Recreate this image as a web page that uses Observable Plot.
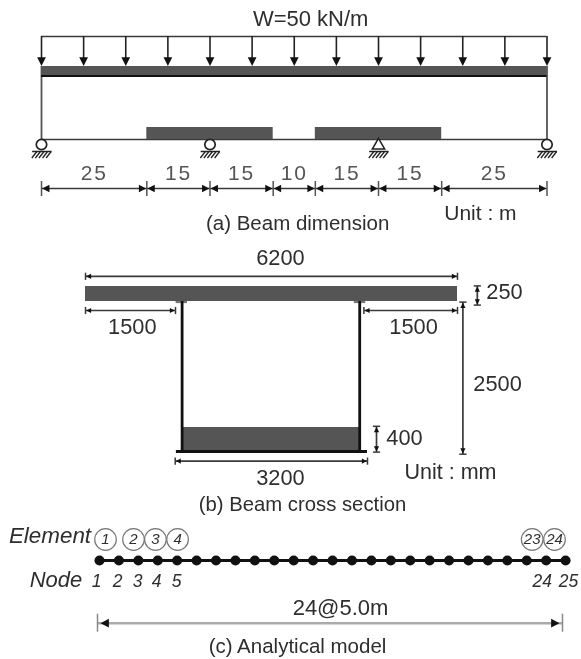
<!DOCTYPE html>
<html><head><meta charset="utf-8">
<script src="https://cdn.jsdelivr.net/npm/d3@7"></script>
<script src="https://cdn.jsdelivr.net/npm/@observablehq/plot@0.6"></script>
<style>
html,body{margin:0;padding:0;background:#fff;overflow:hidden}
#chart svg{display:block;filter:blur(.5px);background:#fff;max-width:none}
.wide text{letter-spacing:1.8px}
</style></head><body><div id="chart"></div>
<script>
// ---------- (a) beam dimension, metres ----------
const spanLengths = [25, 15, 15, 10, 15, 15, 25];
const loadStations = [0,10,20,30,40,50,60,70,80,90,100,110,120];
const thickenedZones = [[25, 55], [65, 95]];
const rollerSupports = [0, 40, 120];
const hingeSupports = [80];
const hatchOffsets = [-1.5, -0.65, 0.2, 1.05, 1.9];
// ---------- (b) cross section, millimetres ----------
const deckWidth = 6200, deckDepth = 250, sectionDepth = 2500, plateDepth = 400;
const webStations = [1610, 4570];
const topFlanges = [[1510, 1700], [4480, 4670]];
const bottomFlange = [1515, 4700];
// ---------- (c) analytical model, node numbers ----------
const nodes = d3.range(1, 26);
const elementLabels = [1, 2, 3, 4, 23, 24];
const elementStations = [1.31, 2.75, 3.88, 5.02, 23.28, 24.43];
const nodeLabels = [1, 2, 3, 4, 5, 24, 25];
const nodeLabelStations = [0.85, 1.93, 2.96, 3.94, 4.97, 23.8, 25.15];

const FONT = "Liberation Sans, Arial, sans-serif";
const DARK = "#3a3a3a", SOLID = "#555", TXT = "#2e2e2e";
// arrowhead symbols: the tip sits on the anchor point
const head = (dx, dy, len) => ({draw(c, s) {
  const r = Math.sqrt(s / Math.PI), l = r * len;
  c.moveTo(0, 0);
  c.lineTo(-dx * l - dy * r, -dy * l - dx * r);
  c.lineTo(-dx * l + dy * r, -dy * l + dx * r);
  c.closePath();
}});
const down = head(0, 1, 2), up = head(0, -1, 2), right = head(1, 0, 1.9), left = head(-1, 0, 1.9);
const frame = (height, x, y) => ({width: 581, height, margin: 0, style: {fontFamily: FONT, background: "#fff"},
  x: {...x, axis: null}, y: {...y, axis: null}});
const mount = p => document.getElementById("chart").appendChild(p);

// ---------- panel (a) ----------
{
  const cum = d3.cumsum(spanLengths);
  const edges = [0, ...cum];
  const mids = spanLengths.map((d, i) => ({t: String(d), x: edges[i] + d / 2}));
  const Y = {load: 36, tip: 65.5, deckTop: 66, deckBot: 75.5, soffit: 139, zone: 127, pin: 144, hatch: 151, hatchEnd: 157.5, dim: 188, tickA: 181, tickB: 196, dimText: 173};
  const hatchLines = [...rollerSupports, ...hingeSupports].flatMap(s => hatchOffsets.map(o => ({s, o})));
  mount(Plot.plot({...frame(240, {domain: [0, 120], range: [41, 546.5]}, {domain: [0, 240], range: [0, 240]}), marks: [
    Plot.text(["W=50 kN/m"], {x: () => 63.9, y: () => 18.5, text: d => d, fontSize: 22, fill: TXT, lineAnchor: "middle"}),
    Plot.ruleY([Y.load], {x1: 0, x2: 120, stroke: DARK, strokeWidth: 1.4}),
    Plot.ruleX(loadStations, {y1: Y.load, y2: Y.tip - 6, stroke: "#222", strokeWidth: 1.6}),
    Plot.dot(loadStations, {x: d => d, y: Y.tip, r: 4.4, symbol: down, fill: "#111"}),
    Plot.ruleX([0, 120], {y1: Y.deckTop, y2: Y.soffit, stroke: SOLID, strokeWidth: 1.8}),
    Plot.rect([0], {x1: 0, x2: 120, y1: Y.deckTop, y2: Y.deckBot, fill: SOLID}),
    Plot.ruleY([Y.deckBot], {x1: 0, x2: 120, stroke: "#111", strokeWidth: 1.8}),
    Plot.ruleY([Y.soffit], {x1: 0, x2: 120, stroke: DARK, strokeWidth: 1.5}),
    Plot.rect(thickenedZones, {x1: d => d[0], x2: d => d[1], y1: Y.zone, y2: Y.soffit, fill: SOLID}),
    Plot.dot(rollerSupports, {x: d => d, y: Y.pin, r: 5.2, fill: "#fff", stroke: "#222", strokeWidth: 1.7}),
    Plot.dot(hingeSupports, {x: d => d, y: Y.pin + 1, r: 4.6, symbol: "triangle", fill: "#fff", stroke: "#222", strokeWidth: 1.5}),
    Plot.ruleY([...rollerSupports, ...hingeSupports], {y: () => Y.hatch, x1: d => d - 2.1, x2: d => d + 2.5, stroke: "#222", strokeWidth: 1.5}),
    Plot.link(hatchLines, {x1: d => d.s + d.o + 0.4, x2: d => d.s + d.o - 0.8, y1: Y.hatch, y2: Y.hatchEnd, stroke: "#222", strokeWidth: 1.3}),
    Plot.ruleY([Y.dim], {x1: 0, x2: 120, stroke: DARK, strokeWidth: 1.6}),
    Plot.ruleX(edges, {y1: Y.tickA, y2: Y.tickB, stroke: "#555", strokeWidth: 1.5}),
    Plot.dot(edges.slice(0, -1), {x: d => d, y: Y.dim, dx: 0.7, r: 3.8, symbol: left, fill: "#111"}),
    Plot.dot(edges.slice(1), {x: d => d, y: Y.dim, dx: -0.7, r: 3.8, symbol: right, fill: "#111"}),
    Plot.text(mids, {x: "x", y: () => Y.dimText, text: "t", fontSize: 21, fill: "#555", lineAnchor: "middle", className: "wide"}),
    Plot.text(["(a) Beam dimension"], {x: () => 60.8, y: () => 223, text: d => d, fontSize: 20.5, fill: TXT, lineAnchor: "middle"}),
    Plot.text(["Unit : m"], {x: () => 104.2, y: () => 213, text: d => d, fontSize: 21, fill: TXT, lineAnchor: "middle"})
  ]}));
}

// ---------- panel (b): 0.06 px per mm ----------
{
  const k = 0.06;
  const mm = px => px / k;
  const total = deckDepth + sectionDepth; // 2750 mm from deck top to soffit
  const dimH = [
    {a: 0, b: deckWidth, y: -170},
    {a: 0, b: 1500, y: 400},
    {a: deckWidth - 1560, b: deckWidth, y: 400},
    {a: bottomFlange[0] - 20, b: bottomFlange[1], y: total + 160}
  ];
  const dimV = [
    {x: 6530, a: -10, b: 310},
    {x: 6290, a: deckDepth + 10, b: total + 45},
    {x: 4850, a: total - 420, b: total + 10}
  ];
  const texts = [
    {t: "6200", x: 3250, y: -480},
    {t: "1500", x: 780, y: 680},
    {t: "1500", x: 5467, y: 680},
    {t: "3200", x: 3250, y: 3200},
    {t: "250", x: 6983, y: 90},
    {t: "2500", x: 6867, y: 1620},
    {t: "400", x: 5317, y: 2520},
    {t: "Unit : mm", x: 6083, y: 3100},
    {t: "(b) Beam cross section", x: 3617, y: 3640}
  ];
  mount(Plot.plot({...frame(275, {domain: [mm(-85), mm(581 - 85)], range: [0, 581]}, {domain: [mm(-46), mm(275 - 46)], range: [0, 275]}), marks: [
    Plot.rect([0], {x1: 0, x2: deckWidth, y1: 0, y2: deckDepth, fill: SOLID}),
    Plot.rect(topFlanges, {x1: d => d[0], x2: d => d[1], y1: deckDepth, y2: deckDepth + 35, fill: "#777"}),
    Plot.rect([0], {x1: webStations[0], x2: webStations[1], y1: total - plateDepth, y2: total, fill: SOLID}),
    Plot.ruleX(webStations, {y1: deckDepth, y2: total, stroke: "#111", strokeWidth: 2.8}),
    Plot.ruleY([total], {x1: bottomFlange[0], x2: bottomFlange[1], stroke: "#111", strokeWidth: 2.8}),
    Plot.link(dimH, {x1: "a", x2: "b", y1: "y", y2: "y", stroke: DARK, strokeWidth: 1.7}),
    Plot.link(dimV, {x1: "x", x2: "x", y1: "a", y2: "b", stroke: DARK, strokeWidth: 1.7}),
    Plot.link(dimH.flatMap(d => [d.a, d.b].map(x => ({x, y: d.y}))), {x1: "x", x2: "x", y1: d => d.y - 60, y2: d => d.y + 60, stroke: DARK, strokeWidth: 1.5}),
    Plot.link(dimV.flatMap(d => [d.a, d.b].map(y => ({y, x: d.x}))), {x1: d => d.x - 60, x2: d => d.x + 60, y1: "y", y2: "y", stroke: DARK, strokeWidth: 1.5}),
    Plot.dot(dimH, {x: "a", y: "y", dx: 0.7, r: 2.6, symbol: left, fill: "#111"}),
    Plot.dot(dimH, {x: "b", y: "y", dx: -0.7, r: 2.6, symbol: right, fill: "#111"}),
    Plot.dot(dimV, {x: "x", y: "a", dy: 0.7, r: 2.6, symbol: up, fill: "#111"}),
    Plot.dot(dimV, {x: "x", y: "b", dy: -0.7, r: 2.6, symbol: down, fill: "#111"}),
    Plot.text(texts.slice(0, 7), {x: "x", y: "y", text: "t", fontSize: 21.8, fill: TXT, lineAnchor: "middle"}),
    Plot.text(texts.slice(7, 8), {x: "x", y: "y", text: "t", fontSize: 21.5, fill: TXT, lineAnchor: "middle"}),
    Plot.text(texts.slice(8), {x: "x", y: "y", text: "t", fontSize: 20.3, fill: TXT, lineAnchor: "middle"})
  ]}));
}

// ---------- panel (c) ----------
{
  const Y = {head: 20, circle: 24, beam: 45, node: 64, nodeText: 66, dimText: 92, dim: 107.7, tick: 9, caption: 131};
  const elems = elementLabels.map((t, i) => ({t, x: elementStations[i]}));
  const nlab = nodeLabels.map((t, i) => ({t, x: nodeLabelStations[i]}));
  const px = p => 1 + (p - 99) / 19.42;
  mount(Plot.plot({...frame(144, {domain: [px(0), px(581)], range: [0, 581]}, {domain: [0, 144], range: [0, 144]}), marks: [
    Plot.text(["Element"], {x: () => px(49.5), y: () => Y.head, text: d => d, fontSize: 22.4, fontStyle: "italic", fill: TXT, lineAnchor: "middle"}),
    Plot.text(["Node"], {x: () => px(55.5), y: () => Y.node, text: d => d, fontSize: 22, fontStyle: "italic", fill: TXT, lineAnchor: "middle"}),
    Plot.dot(elems, {x: "x", y: () => Y.circle, r: 10.8, fill: "none", stroke: "#777", strokeWidth: 1.2}),
    Plot.text(elems, {x: "x", y: () => Y.circle, text: "t", fontSize: 15, fontStyle: "italic", fill: TXT, lineAnchor: "middle"}),
    Plot.ruleY([Y.beam], {x1: 1, x2: 25, stroke: "#111", strokeWidth: 2.8}),
    Plot.dot(nodes, {x: d => d, y: () => Y.beam, r: 5, fill: "#111"}),
    Plot.text(nlab, {x: "x", y: () => Y.nodeText, text: "t", fontSize: 17.5, fontStyle: "italic", fill: TXT, lineAnchor: "middle"}),
    Plot.text(["24@5.0m"], {x: () => px(340), y: () => Y.dimText, text: d => d, fontSize: 22, fill: TXT, lineAnchor: "middle"}),
    Plot.ruleY([Y.dim], {x1: px(97), x2: px(562), stroke: "#aaa", strokeWidth: 2.4}),
    Plot.ruleX([px(97), px(562)], {y1: Y.dim - Y.tick, y2: Y.dim + Y.tick, stroke: "#888", strokeWidth: 1.5}),
    Plot.dot([px(97)], {x: d => d, y: () => Y.dim, dx: 3, r: 4.4, symbol: left, fill: "#111"}),
    Plot.dot([px(562)], {x: d => d, y: () => Y.dim, dx: -3, r: 4.4, symbol: right, fill: "#111"}),
    Plot.text(["(c) Analytical model"], {x: () => px(297), y: () => Y.caption, text: d => d, fontSize: 20.5, fill: TXT, lineAnchor: "middle"})
  ]}));
}
</script></body></html>
